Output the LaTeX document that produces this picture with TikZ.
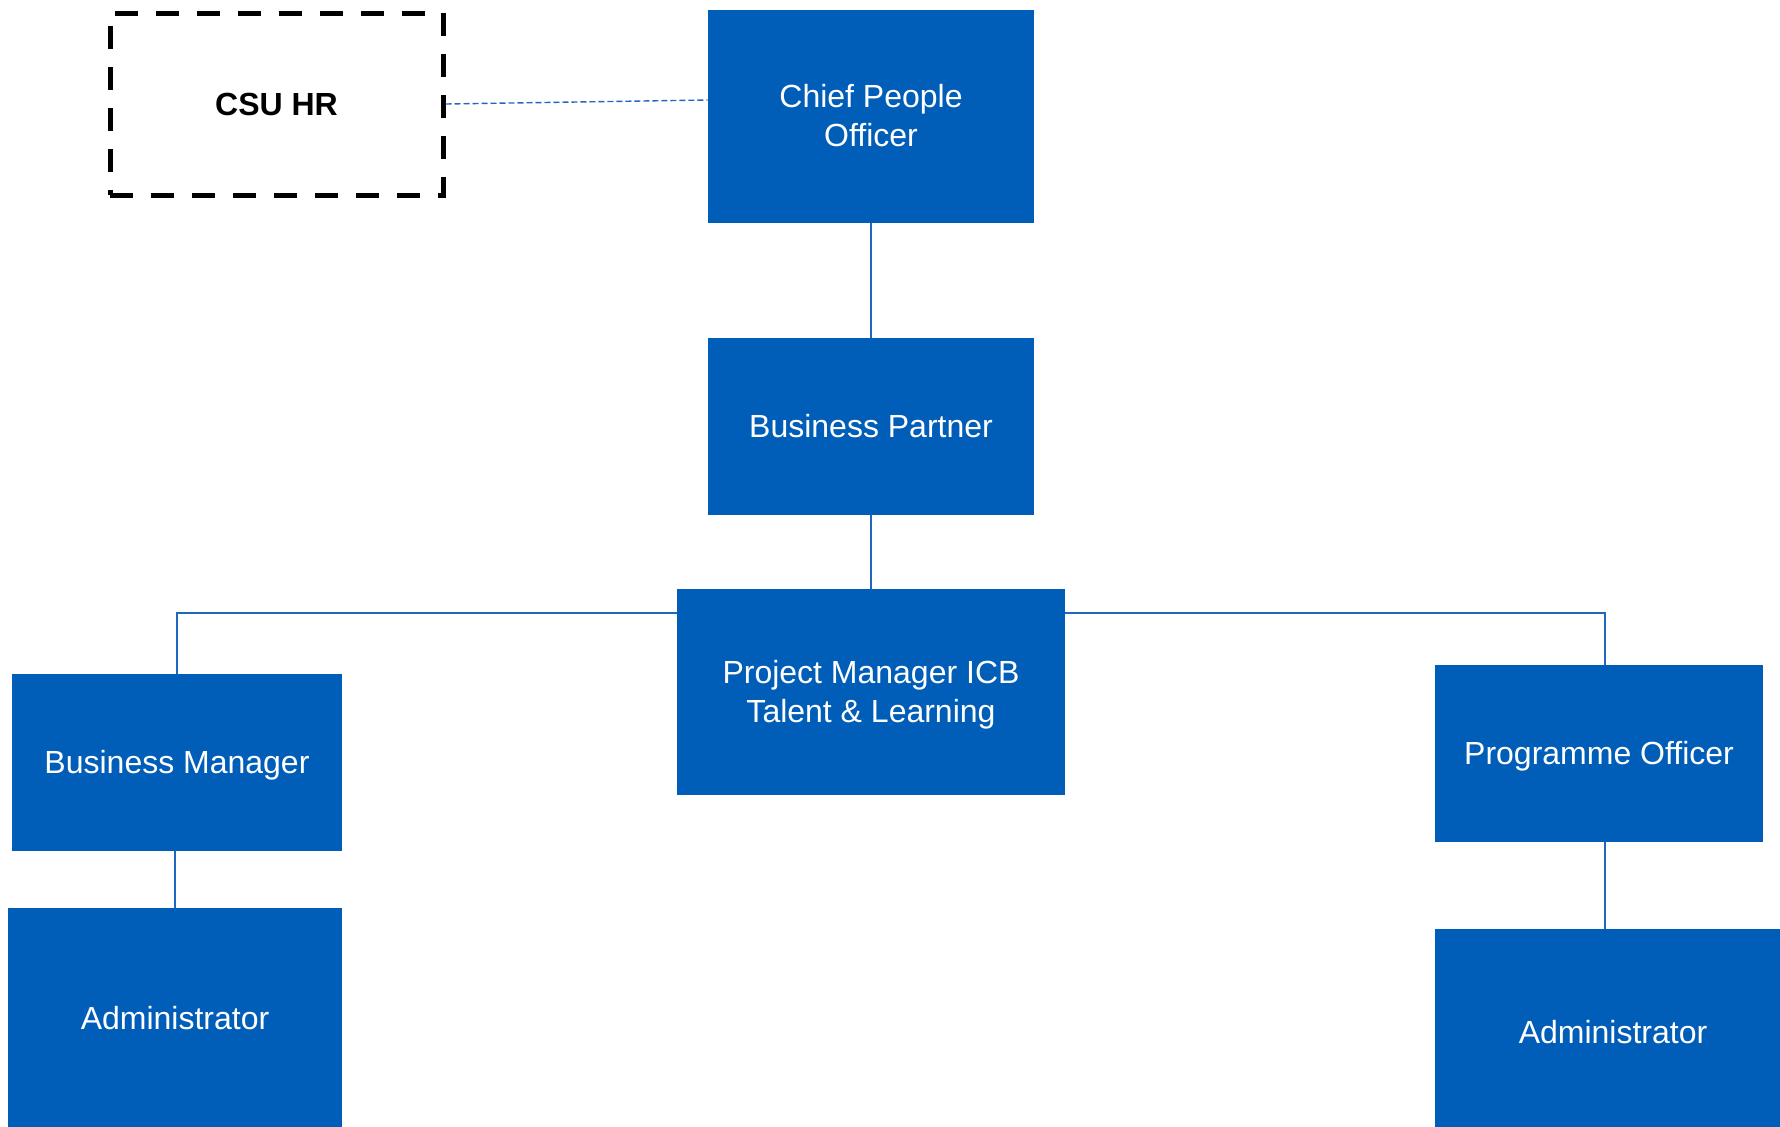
\documentclass[tikz,border=0pt]{standalone}
\usepackage{fontspec}
\setmainfont{Liberation Sans}
\definecolor{nhsblue}{HTML}{005EB8}
\definecolor{linkblue}{HTML}{1F67C0}
\newcommand\lowtext[1]{\raisebox{-1.8pt}[\height][\depth]{\begin{tabular}{@{}c@{}}#1\end{tabular}}}
\begin{document}
\begin{tikzpicture}[x=0.5pt,y=-0.5pt,
  role/.style={fill=nhsblue,draw=none,text=white,align=center,inner sep=0pt,
    font=\fontsize{16}{19.5}\selectfont},
  link/.style={draw=linkblue,line width=0.9pt},
  extbox/.style={draw=black,line width=2.5pt,dash pattern=on 11.5pt off 9pt,
    align=center,inner sep=0pt,font=\fontsize{16}{19.5}\selectfont\bfseries}]
\useasboundingbox (0,0) rectangle (1780,1126);
\coordinate (jl) at (177,613);
\coordinate (jr) at (1605,613);
\node[role,minimum width=163pt,minimum height=106.5pt] (cpo) at (871,116) {\lowtext{Chief People\\Officer}};
\node[role,minimum width=163pt,minimum height=88.5pt] (bp) at (871,426.5) {\lowtext{Business Partner}};
\node[role,minimum width=194pt,minimum height=103pt] (pm) at (871,692) {\lowtext{Project Manager ICB\\Talent \& Learning}};
\node[role,minimum width=164.75pt,minimum height=88.5pt] (bm) at (177,762.5) {\lowtext{Business Manager}};
\node[role,minimum width=167pt,minimum height=110pt] (adl) at (175,1018) {\lowtext{Administrator}};
\node[role,minimum width=164pt,minimum height=88.5pt] (po) at (1599,753.5) {\lowtext{Programme Officer}};
\node[role,minimum width=178pt,minimum height=103pt] (adr) at (1613,1032) {\lowtext{Administrator}};
\node[extbox,minimum width=166.5pt,minimum height=91pt] (csu) at (276.5,104) {CSU HR};
\draw[link] (cpo) -- (bp);
\draw[link] (bp) -- (pm);
\draw[link] (pm.west |- jl) -- (jl) -- (bm.north);
\draw[link] (pm.east |- jr) -- (jr) -- (jr |- po.north);
\draw[link] (bm.south -| adl.north) -- (adl.north);
\draw[link] (jr |- po.south) -- (jr |- adr.north);
\draw[draw=linkblue,line width=0.7pt,dash pattern=on 3pt off 1.5pt] (csu.east) -- (cpo.west |- 0,100);
\end{tikzpicture}
\end{document}
